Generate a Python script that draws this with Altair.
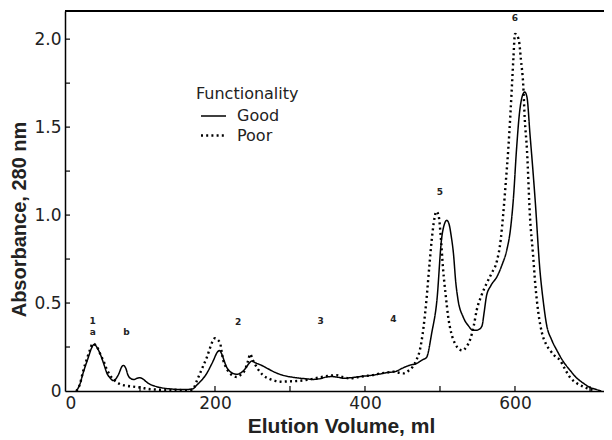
import altair as alt
import pandas as pd

# ---- data ----
good_x = [15, 20, 24, 31, 35, 39, 43, 47, 52, 56, 60, 64, 68, 72, 76, 78, 81, 84, 88, 92, 96, 100, 104, 109, 115, 122, 140, 160, 170, 176, 183, 189, 194, 198, 203, 206, 209, 212, 215, 219, 224, 229, 235, 240, 245, 249, 254, 260, 270, 278, 290, 304, 320, 331, 340, 349, 356, 364, 372, 380, 390, 400, 410, 420, 430, 440, 450, 460, 468, 474, 478, 482, 489, 496, 502, 506, 509, 512, 515, 518, 521, 524, 531, 538, 544, 548, 552, 556, 559, 562, 568, 576, 583, 589, 594, 598, 602, 606, 610, 613, 616, 620, 624, 627, 633, 638, 642, 649, 656, 664, 673, 682, 691, 700, 709, 715]
good_y = [0, 0.04, 0.10, 0.19, 0.24, 0.265, 0.245, 0.21, 0.15, 0.10, 0.075, 0.06, 0.07, 0.10, 0.14, 0.145, 0.13, 0.09, 0.07, 0.065, 0.072, 0.075, 0.068, 0.05, 0.035, 0.025, 0.012, 0.008, 0.012, 0.035, 0.065, 0.10, 0.14, 0.175, 0.22, 0.23, 0.21, 0.175, 0.14, 0.115, 0.10, 0.095, 0.105, 0.125, 0.155, 0.17, 0.16, 0.15, 0.128, 0.11, 0.09, 0.078, 0.07, 0.066, 0.07, 0.08, 0.082, 0.078, 0.072, 0.075, 0.08, 0.085, 0.09, 0.097, 0.105, 0.11, 0.13, 0.147, 0.155, 0.17, 0.18, 0.19, 0.33, 0.52, 0.86, 0.95, 0.97, 0.95, 0.88, 0.78, 0.62, 0.52, 0.42, 0.37, 0.345, 0.345, 0.35, 0.37, 0.45, 0.54, 0.60, 0.65, 0.72, 0.80, 0.92, 1.1, 1.37, 1.58, 1.68, 1.70, 1.67, 1.46, 1.25, 1.08, 0.70, 0.50, 0.38, 0.29, 0.23, 0.17, 0.12, 0.075, 0.045, 0.02, 0.008, 0]

poor_x = [15, 20, 24, 29, 33, 37, 41, 44, 48, 51, 55, 60, 66, 73, 82, 91, 100, 114, 140, 167, 172, 176, 180, 184, 189, 193, 197, 200, 204, 207, 209, 211, 214, 218, 223, 229, 235, 240, 244, 247, 250, 253, 258, 264, 272, 280, 287, 300, 313, 326, 340, 350, 362, 370, 380, 390, 400, 410, 420, 430, 438, 444, 451, 458, 464, 469, 473, 478, 482, 486, 490, 493, 495, 498, 501, 504, 508, 511, 515, 520, 525, 530, 535, 540, 545, 549, 555, 562, 569, 576, 581, 584, 588, 591, 594, 596, 598, 600, 603, 606, 608, 611, 613, 616, 620, 624, 627, 631, 636, 641, 647, 653, 660, 666, 673, 682, 691, 700, 707]
poor_y = [0, 0.04, 0.11, 0.18, 0.23, 0.27, 0.26, 0.24, 0.20, 0.175, 0.13, 0.09, 0.06, 0.04, 0.03, 0.025, 0.02, 0.01, 0.006, 0.005, 0.02, 0.06, 0.10, 0.14, 0.19, 0.24, 0.285, 0.30, 0.29, 0.27, 0.22, 0.175, 0.14, 0.11, 0.09, 0.08, 0.095, 0.12, 0.17, 0.21, 0.18, 0.155, 0.12, 0.09, 0.07, 0.058, 0.053, 0.055, 0.058, 0.065, 0.078, 0.085, 0.09, 0.08, 0.072, 0.078, 0.085, 0.09, 0.10, 0.105, 0.11, 0.105, 0.10, 0.115, 0.14, 0.18, 0.23, 0.36, 0.52, 0.72, 0.90, 0.99, 1.02, 1.0, 0.88, 0.70, 0.53, 0.42, 0.33, 0.27, 0.24, 0.23, 0.25, 0.29, 0.37, 0.46, 0.54, 0.61, 0.67, 0.74, 0.86, 0.99, 1.2, 1.37, 1.58, 1.74, 1.9, 2.03, 2.02, 1.97, 1.88, 1.74, 1.55, 1.37, 0.99, 0.78, 0.61, 0.45, 0.33, 0.27, 0.23, 0.20, 0.175, 0.13, 0.08, 0.045, 0.025, 0.01, 0.003]

series_names = ["Good", "Poor"]

ann_text = ["1", "a", "b", "2", "3", "4", "5", "6"]
ann_x = [37, 37, 82, 231, 341, 438, 500, 600]
ann_y = [0.40, 0.335, 0.335, 0.39, 0.40, 0.41, 1.13, 2.12]

x_label_values = [0, 200, 400, 600]
x_tick_values = [100, 200, 300, 400, 500, 600, 700]
y_label_values = [0, 0.5, 1.0, 1.5, 2.0]
y_tick_values = [0.25, 0.5, 0.75, 1.0, 1.25, 1.5, 1.75, 2.0]

X_DOMAIN = [0, 718.7]
Y_DOMAIN = [0, 2.16]
W, H = 539, 380

# ---- tables ----
curves = pd.concat([
    pd.DataFrame({"vol": good_x, "abs": good_y, "Functionality": series_names[0]}),
    pd.DataFrame({"vol": poor_x, "abs": poor_y, "Functionality": series_names[1]}),
])
ann = pd.DataFrame({"vol": ann_x, "abs": ann_y, "t": ann_text})
xt = pd.DataFrame({"vol": x_tick_values})
yt = pd.DataFrame({"abs": y_tick_values})

xscale = alt.Scale(domain=X_DOMAIN, nice=False, zero=False)
yscale = alt.Scale(domain=Y_DOMAIN, nice=False, zero=False)

FONT = "DejaVu Sans"
TFONT = "Liberation Sans"

xaxis = alt.Axis(values=x_label_values, ticks=False, grid=False, domainColor="black",
                 domainWidth=1.5, labelFont=FONT, labelFontSize=17, labelColor="#222",
                 labelPadding=4, title="Elution Volume, ml", titleFont=TFONT,
                 titleFontSize=21, titleFontWeight="bold", titleColor="#222",
                 titleX=276, titleY=41, titleAlign="center", titleBaseline="alphabetic")
yaxis = alt.Axis(values=y_label_values, ticks=False, grid=False, domainColor="black",
                 domainWidth=1.5, labelFont=FONT, labelFontSize=17, labelColor="#222",
                 labelPadding=4,
                 labelExpr="datum.value == 0 ? '0' : format(datum.value, '.1f')",
                 title="Absorbance,  280 nm", titleFont=TFONT, titleFontSize=20,
                 titleFontWeight="bold", titleColor="#222", titleAngle=270,
                 titleX=-46, titleY=208, titleAlign="center", titleBaseline="middle")

lines = alt.Chart(curves).mark_line(interpolate="monotone", clip=True, color="black").encode(
    x=alt.X("vol:Q", scale=xscale, axis=xaxis),
    y=alt.Y("abs:Q", scale=yscale, axis=yaxis),
    strokeDash=alt.StrokeDash(
        "Functionality:N",
        scale=alt.Scale(domain=series_names, range=[[1, 0], [2, 3.2]]),
        legend=alt.Legend(orient="none", legendX=131, legendY=75, title="Functionality",
                          titleFont=FONT, titleFontSize=16, titleFontWeight="normal",
                          titleColor="#222", titlePadding=3, labelFont=FONT,
                          labelFontSize=16, labelColor="#222",
                          symbolType="M-1.25,0H1.25",
                          symbolSize=400, symbolStrokeWidth=2.4, symbolStrokeColor="black",
                          symbolFillColor="transparent",
                          symbolOffset=6, labelOffset=12, rowPadding=-2),
    ),
    strokeWidth=alt.StrokeWidth("Functionality:N",
                                scale=alt.Scale(domain=series_names, range=[1.5, 2.4]),
                                legend=None),
)

xticks = alt.Chart(xt).mark_rule(color="black", strokeWidth=1.2).encode(
    x=alt.X("vol:Q", scale=xscale), y=alt.value(H), y2=alt.value(H - 5))
yticks = alt.Chart(yt).mark_rule(color="black", strokeWidth=1.2).encode(
    y=alt.Y("abs:Q", scale=yscale), x=alt.value(0), x2=alt.value(5))
topline = alt.Chart(xt).mark_rule(color="black", strokeWidth=1.5).encode(
    x=alt.value(0), x2=alt.value(W), y=alt.value(0))

labels = alt.Chart(ann).mark_text(font=FONT, fontSize=9, fontWeight="bold", color="#222").encode(
    x=alt.X("vol:Q", scale=xscale), y=alt.Y("abs:Q", scale=yscale), text="t:N")

chart = alt.layer(lines, xticks, yticks, topline, labels).properties(
    width=W, height=H,
    autosize=alt.AutoSizeParams(type="none"),
    padding={"left": 57, "top": 3, "right": 0, "bottom": 46},
).configure_view(stroke=None).configure(background="white")

chart.save("out.html", embed_options={"renderer": "svg", "actions": False})
